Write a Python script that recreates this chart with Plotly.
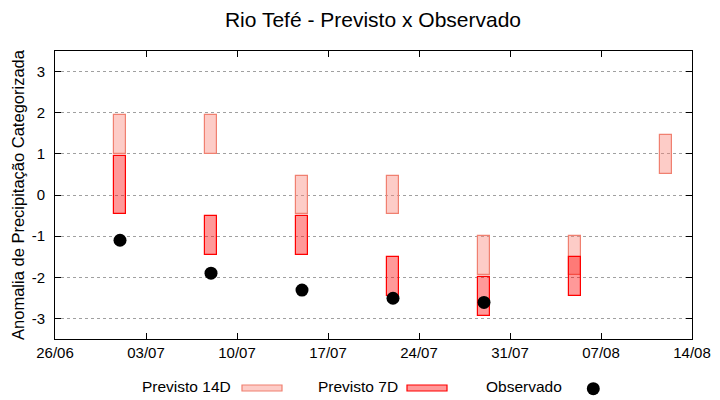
import plotly.graph_objects as go

# ---- data ----
dates14 = ["2024-07-01", "2024-07-08", "2024-07-15", "2024-07-22",
           "2024-07-29", "2024-08-05", "2024-08-12"]
low14 = [1.0, 1.0, -0.45, -0.45, -1.95, -1.95, 0.5]
high14 = [1.95, 1.95, 0.45, 0.45, -1.0, -1.0, 1.45]

dates7 = ["2024-07-01", "2024-07-08", "2024-07-15", "2024-07-22",
          "2024-07-29", "2024-08-05"]
low7 = [-0.45, -1.45, -1.45, -2.45, -2.95, -2.45]
high7 = [0.95, -0.5, -0.5, -1.5, -2.0, -1.5]

dates_obs = ["2024-07-01", "2024-07-08", "2024-07-15", "2024-07-22", "2024-07-29"]
obs = [-1.1, -1.9, -2.31, -2.51, -2.61]

ytick_vals = [-3, -2, -1, 0, 1, 2, 3]
ytick_text = ["-3", "-2", "-1", "0", "1", "2", "3"]

FONT = "Liberation Sans, Arial, sans-serif"
DAY = 86400000

fig = go.Figure()
fig.add_trace(go.Bar(
    x=dates14, y=[h - l for h, l in zip(high14, low14)], base=low14,
    width=0.9 * DAY, name="Previsto 14D",
    marker=dict(color="rgba(250,128,114,0.4)", line=dict(color="#f08070", width=1.2)),
))
fig.add_trace(go.Bar(
    x=dates7, y=[h - l for h, l in zip(high7, low7)], base=low7,
    width=0.9 * DAY, name="Previsto 7D",
    marker=dict(color="rgba(255,0,0,0.4)", line=dict(color="#ff0000", width=1.2)),
))
fig.add_trace(go.Scatter(
    x=dates_obs, y=obs, mode="markers", name="Observado",
    marker=dict(color="black", size=13),
))

L, R, T, B = 55, 28, 51, 61
W, H = 720, 400
pw, ph = W - L - R, H - T - B

def px(xp):
    return (xp - L) / pw

def py(yp):
    return (H - B - yp) / ph

shapes = []
annotations = []
# manual gnuplot-style legend
items = [
    ("Previsto 14D", 233, (242, 282), "rgba(250,128,114,0.4)", "#f08070"),
    ("Previsto 7D", 400, (407, 447), "rgba(255,0,0,0.4)", "#ff0000"),
]
for text, xr, (x0, x1), fc, lc in items:
    annotations.append(dict(text=text, xref="paper", yref="paper", x=px(xr), y=py(386.5),
                            xanchor="right", yanchor="middle", showarrow=False,
                            font=dict(family=FONT, size=15.5, color="black")))
    shapes.append(dict(type="rect", xref="paper", yref="paper",
                       x0=px(x0), x1=px(x1), y0=py(385), y1=py(391),
                       fillcolor=fc, line=dict(color=lc, width=1.2)))
annotations.append(dict(text="Observado", xref="paper", yref="paper", x=px(564), y=py(386.5),
                        xanchor="right", yanchor="middle", showarrow=False,
                        font=dict(family=FONT, size=15.5, color="black")))
shapes.append(dict(type="circle", xref="paper", yref="paper",
                   xsizemode="pixel", ysizemode="pixel",
                   xanchor=px(593.3), yanchor=py(388.7),
                   x0=-6.5, x1=6.5, y0=-6.5, y1=6.5,
                   fillcolor="black", line=dict(color="black", width=0)))

fig.update_layout(
    width=W, height=H,
    margin=dict(l=L, r=R, t=T, b=B, autoexpand=False),
    paper_bgcolor="white", plot_bgcolor="white",
    barmode="overlay", bargap=0,
    showlegend=False,
    font=dict(family=FONT, size=15, color="black"),
    title=dict(text="Rio Tefé - Previsto x Observado", x=(373) / W, xanchor="center",
               y=1 - 20 / H, yanchor="middle",
               font=dict(family=FONT, size=21, color="black")),
    shapes=shapes,
    annotations=annotations,
)
fig.update_xaxes(
    type="date", range=["2024-06-26", "2024-08-14"],
    tick0="2024-06-26", dtick=7 * DAY, tickformat="%d/%m",
    showgrid=False, zeroline=False, automargin=False,
    showline=True, linecolor="black", linewidth=1, mirror="ticks",
    ticks="inside", ticklen=6, tickcolor="black",
    tickfont=dict(family=FONT, size=15, color="black"),
)
fig.update_yaxes(
    range=[-3.5, 3.5], tickvals=ytick_vals, ticktext=ytick_text,
    showgrid=True, gridcolor="#a0a0a0", griddash="3px,3px", gridwidth=1,
    zeroline=False, automargin=False,
    showline=True, linecolor="black", linewidth=1, mirror="ticks",
    ticks="inside", ticklen=6, tickcolor="black",
    ticklabelstandoff=6,
    tickfont=dict(family=FONT, size=15, color="black"),
    title=dict(text="Anomalia de Precipitação Categorizada", standoff=2,
               font=dict(family=FONT, size=16.5, color="black")),
)

fig.write_html("out.html", config={"displayModeBar": False},
               post_script="document.body.style.margin='0';document.body.style.padding='0';")
